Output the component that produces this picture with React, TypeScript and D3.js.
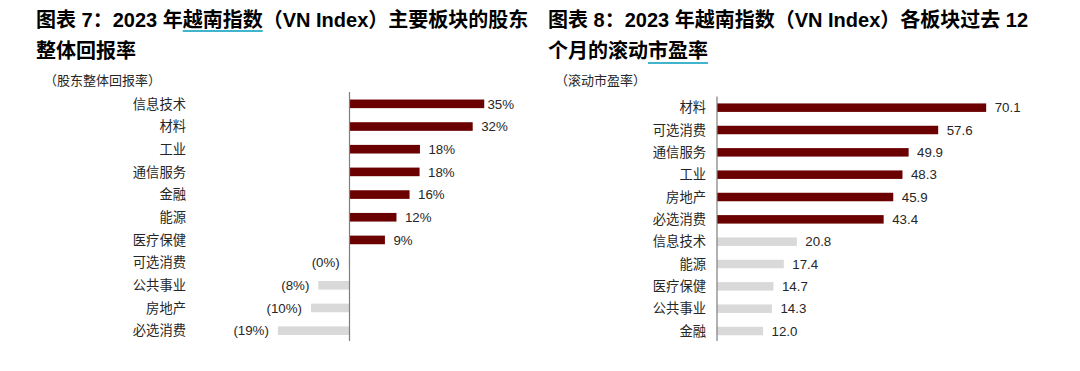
import React, { useEffect, useRef } from "react";
import * as d3 from "d3";

// Chart 7: shareholder total return (%)
const leftCategories = ["信息技术", "材料", "工业", "通信服务", "金融", "能源", "医疗保健", "可选消费", "公共事业", "房地产", "必选消费"];
const leftValues = [35, 32, 18.3, 18.2, 15.6, 12.2, 9.2, -0.2, -8.1, -10, -18.6];

// Chart 8: trailing 12M P/E
const rightCategories = ["材料", "可选消费", "通信服务", "工业", "房地产", "必选消费", "信息技术", "能源", "医疗保健", "公共事业", "金融"];
const rightValues = [70.1, 57.6, 49.9, 48.3, 45.9, 43.4, 20.8, 17.4, 14.7, 14.3, 12.0];
const rightHighlightCount = 6;

const leftTitle1 = "图表 7：2023 年越南指数（VN Index）主要板块的股东";
const leftTitle2 = "整体回报率";
const leftUnderline = "越南指数";
const leftSubtitle = "（股东整体回报率）";
const rightTitle1 = "图表 8：2023 年越南指数（VN Index）各板块过去 12";
const rightTitle2 = "个月的滚动市盈率";
const rightUnderline = "市盈率";
const rightSubtitle = "（滚动市盈率）";

const DARK = "#6b0000";
const GREY = "#d9d9d9";
const TEXT = "#262626";
const FONT = "'Liberation Sans', Arial, 'Noto Sans CJK SC', sans-serif";

export default function App() {
  const ref = useRef<SVGSVGElement | null>(null);

  useEffect(() => {
    const svg = d3.select(ref.current);
    svg.selectAll("*").remove();

    const drawTitle = (x: number, l1: string, l2: string, ul: string, sub: string, subX: number) => {
      const t1 = svg.append("text").attr("x", x).attr("y", 27).attr("font-size", 20).attr("font-weight", "bold")
        .attr("fill", "#000").attr("font-family", FONT).text(l1);
      const t2 = svg.append("text").attr("x", x).attr("y", 58).attr("font-size", 20).attr("font-weight", "bold")
        .attr("fill", "#000").attr("font-family", FONT).text(l2);
      [[t1, l1, 31], [t2, l2, 63]].forEach(([t, s, y]: any) => {
        const idx = s.indexOf(ul);
        if (idx >= 0) {
          const node = t.node() as SVGTextElement;
          const x0 = node.getStartPositionOfChar(idx).x;
          const x1 = node.getEndPositionOfChar(idx + ul.length - 1).x;
          svg.append("line").attr("x1", x0).attr("x2", x1).attr("y1", y).attr("y2", y)
            .attr("stroke", "#3fb4cc").attr("stroke-width", 2);
        }
      });
      svg.append("text").attr("x", subX).attr("y", 85).attr("font-size", 13).attr("fill", TEXT)
        .attr("font-family", FONT).text(sub);
    };

    drawTitle(36, leftTitle1, leftTitle2, leftUnderline, leftSubtitle, 44);
    drawTitle(548, rightTitle1, rightTitle2, rightUnderline, rightSubtitle, 555);

    // Left chart
    const xL = d3.scaleLinear().domain([-20, 40]).range([349.5 - 77, 349.5 + 154]);
    const yL = d3.scaleBand().domain(leftCategories).range([92.5, 342]).paddingInner(0.62).paddingOuter(0.31);
    const gL = svg.append("g");
    leftCategories.forEach((c, i) => {
      const v = leftValues[i];
      const y = yL(c)!;
      const h = yL.bandwidth();
      const cy = y + h / 2;
      gL.append("rect").attr("x", Math.min(xL(0), xL(v))).attr("y", y)
        .attr("width", Math.abs(xL(v) - xL(0))).attr("height", h)
        .attr("fill", v >= 0 ? DARK : GREY);
      gL.append("text").attr("x", 186).attr("y", cy).attr("dy", "0.36em").attr("text-anchor", "end")
        .attr("font-size", 13.3).attr("fill", TEXT).attr("font-family", FONT).text(c);
      const label = v < 0 ? `(${Math.round(-v)}%)` : `${Math.round(v)}%`;
      if (v >= 0) {
        const lx = xL(v) + 8.5;
        const w = label.length * 8.6;
        const t = gL.append("text").attr("y", cy).attr("dy", "0.36em").attr("font-size", 13.3).attr("fill", TEXT)
          .attr("font-family", FONT).text(label);
        if (lx + w > 514) t.attr("x", 514).attr("text-anchor", "end");
        else t.attr("x", lx);
      } else {
        gL.append("text").attr("x", Math.min(xL(v), xL(0)) - 9).attr("y", cy).attr("dy", "0.36em")
          .attr("text-anchor", "end").attr("font-size", 13.3).attr("fill", TEXT).attr("font-family", FONT).text(label);
      }
    });
    gL.append("line").attr("x1", xL(0)).attr("x2", xL(0)).attr("y1", 92).attr("y2", 341)
      .attr("stroke", "#7f7f7f").attr("stroke-width", 1.2);

    // Right chart
    const xR = d3.scaleLinear().domain([0, 80]).range([717, 717 + 3.84 * 80]);
    const yR = d3.scaleBand().domain(rightCategories).range([96.5, 342.2]).paddingInner(0.62).paddingOuter(0.31);
    const gR = svg.append("g");
    rightCategories.forEach((c, i) => {
      const v = rightValues[i];
      const y = yR(c)!;
      const h = yR.bandwidth();
      const cy = y + h / 2;
      gR.append("rect").attr("x", xR(0)).attr("y", y).attr("width", xR(v) - xR(0)).attr("height", h)
        .attr("fill", i < rightHighlightCount ? DARK : GREY);
      gR.append("text").attr("x", 706).attr("y", cy).attr("dy", "0.36em").attr("text-anchor", "end")
        .attr("font-size", 13.3).attr("fill", TEXT).attr("font-family", FONT).text(c);
      gR.append("text").attr("x", xR(v) + 8.5).attr("y", cy).attr("dy", "0.36em")
        .attr("font-size", 13.3).attr("fill", TEXT).attr("font-family", FONT).text(d3.format(".1f")(v));
    });
    gR.append("line").attr("x1", xR(0)).attr("x2", xR(0)).attr("y1", 96.5).attr("y2", 341)
      .attr("stroke", "#7f7f7f").attr("stroke-width", 1.2);
  }, []);

  return (
    <svg ref={ref} width={1080} height={371}
      style={{ position: "absolute", left: 0, top: 0, background: "#fff" }} />
  );
}
